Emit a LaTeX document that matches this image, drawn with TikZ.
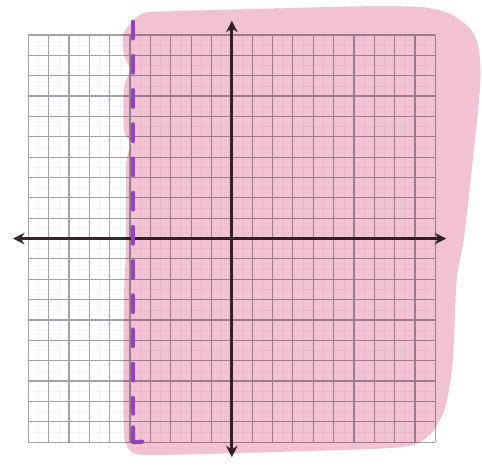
\documentclass[tikz,border=0pt]{standalone}
\usetikzlibrary{arrows.meta}
\definecolor{axiscol}{RGB}{52,40,48}
\definecolor{gridcol}{RGB}{162,162,170}
\definecolor{shadecol}{RGB}{241,194,212}
\definecolor{dashcol}{RGB}{150,66,190}
\tikzset{
    minorgrid/.style={draw=gridcol!12, line width=0.4pt},
    majorgrid/.style={draw=gridcol, line width=0.8pt},
    axis/.style={draw=axiscol, line width=2.2pt, {Stealth[length=8pt,width=8pt]}-{Stealth[length=8pt,width=8pt]}},
    region/.style={fill=shadecol, blend mode=multiply},
    boundary/.style={draw=dashcol, line width=2.9pt, line cap=round, line join=round}
}

\begin{document}
\begin{tikzpicture}[x=0.5cm, y=0.5cm]
    \useasboundingbox (-11.39,-11.33) rectangle (12.29,11.72);
    \foreach \k in {-9.5,-8.5,...,9.5} {
        \draw [minorgrid] (\k,-10) -- (\k,10);
        \draw [minorgrid] (-10,\k) -- (10,\k);
    }
    \foreach \k in {-10,...,10} {
        \draw [majorgrid] (\k,-10) -- (\k,10);
        \draw [majorgrid] (-10,\k) -- (10,\k);
    }
    \coordinate (xmin) at (-10.75,0);
    \coordinate (xmax) at (10.53,0);
    \coordinate (ymin) at (0,-10.74);
    \coordinate (ymax) at (0,10.7);
    \draw [axis] (xmin) -- (xmax);
    \draw [axis] (ymin) -- (ymax);
    \fill [region] plot [smooth cycle] coordinates {
        (-4.5,11.0) (-3.4,11.15) (2,11.3) (7,11.42) (9.5,11.35) (10.8,11.0)
        (11.8,10.2) (12.15,9.2) (12.2,7.5) (11.85,4) (11.4,0) (11.05,-2)
        (10.85,-6) (10.45,-8.4) (9.65,-9.7) (8.3,-10.25) (3.3,-10.45) (-2,-10.6)
        (-4.5,-10.62) (-5.15,-10.2) (-5.32,-9) (-5.3,-3) (-5.2,-0.5) (-5.2,3.5)
        (-4.98,4.7) (-5.3,5.3) (-5.3,7.4) (-5.0,8.3) (-5.3,9.0) (-5.3,10.1)};
    \coordinate (btop) at (-4.85,10.65);
    \coordinate (bmid) at (-4.85,-8.6);
    \coordinate (blow) at (-4.85,-9.28);
    \coordinate (bcorner) at (-4.85,-10.0);
    \coordinate (bend) at (-4.4,-9.98);
    \draw [boundary, dash pattern=on 0.41cm off 0.43cm] (btop) -- (bmid);
    \draw [boundary] (blow) -- (bcorner) -- (bend);
\end{tikzpicture}
\end{document}
